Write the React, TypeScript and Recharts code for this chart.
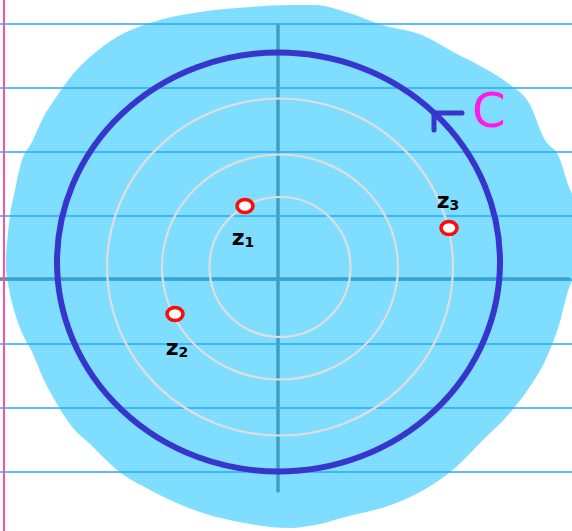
import {
  ComposedChart, XAxis, YAxis, Area, Scatter,
  ReferenceLine, ReferenceArea, ReferenceDot,
} from 'recharts';

// Plane units: the axes cross at (0, 0). One unit is about 50px on screen.
const X_DOMAIN: [number, number] = [-5.56, 5.88];
const Y_DOMAIN: [number, number] = [-5.04, 5.58];

// Painted blue blob, traced as column edges (x, bottom, top)
const blobX      = [-5.44, -5.36, -5.28, -5.16, -4.9, -4.7, -4.42, -4.1, -3.76, -3.22, -2.56, -1.56, -0.56, 0.24, 0.74, 1.42, 2.08, 2.88, 3.54, 4.08, 4.62, 5.02, 5.34, 5.62, 5.82, 6.0];
const blobTop    = [0.48, 1.28, 1.68, 2.24, 2.78, 3.22, 3.66, 4.1, 4.44, 4.84, 5.12, 5.34, 5.44, 5.48, 5.48, 5.32, 5.08, 4.88, 4.52, 4.24, 3.9, 3.52, 2.78, 2.44, 1.84, 1.48];
const blobBottom = [0.18, -0.3, -0.62, -0.98, -1.5, -1.98, -2.5, -2.98, -3.3, -3.82, -4.22, -4.66, -4.9, -4.98, -4.92, -4.74, -4.58, -4.24, -3.78, -3.24, -2.7, -2.18, -1.64, -0.92, -0.18, 0.18];

// Notebook paper
const ruleY   = [5.1, 3.82, 2.54, 1.26, -0.02, -1.3, -2.58, -3.86];
const marginX = -5.48;

// Axis segments
const xAxisSpan = [-5.56, 5.82];
const yAxisSpan = [-4.24, 5.08];

// Grey level rings (shared centre)
const ringCenter = { x: 0.04, y: 0.24 };
const ringRx = [1.41, 2.36, 3.46];
const ringRy = [1.4, 2.25, 3.37];

// Contour C
const contour = { x: 0.01, y: 0.34, rx: 4.43, ry: 4.19 };
const arrowAt = { x: 3.12, y: 3.32 };
const contourLabel = { x: 4.22, y: 3.38, text: 'C' };

// Points z1, z2, z3 and where their labels sit
const points = [
  { name: 'z1', x: -0.66, y: 1.46 },
  { name: 'z2', x: -2.06, y: -0.7 },
  { name: 'z3', x: 3.42, y: 1.02 },
];
const labelSpots = [
  { sub: '1', x: -0.7, y: 0.84 },
  { sub: '2', x: -2.02, y: -1.36 },
  { sub: '3', x: 3.4, y: 1.58 },
];

const blobData = blobX.map((x, i) => ({ x, range: [blobBottom[i], blobTop[i]] }));

const AXIS_GREY  = '#808080';
const BLOB_BLUE  = '#00bbff';
const RULE_BLUE  = '#2aa8f5';
const MARGIN_PINK = '#ff4fa8';
const RING_GREY  = '#dedede';
const INK_BLUE   = '#3636cc';
const MARK_RED   = '#ff0a0a';

function Ellipse(stroke: string, strokeWidth: number) {
  return (p: any) => (
    <ellipse
      cx={p.x + p.width / 2}
      cy={p.y + p.height / 2}
      rx={p.width / 2}
      ry={p.height / 2}
      fill="none"
      stroke={stroke}
      strokeWidth={strokeWidth}
    />
  );
}

export default function App() {
  return (
    <div style={{ position: 'fixed', left: 0, top: 0, background: '#fff' }}>
      <ComposedChart
        width={572}
        height={531}
        data={blobData}
        margin={{ top: 0, right: 0, bottom: 0, left: 0 }}
      >
        <XAxis type="number" dataKey="x" domain={X_DOMAIN} allowDataOverflow hide />
        <YAxis type="number" domain={Y_DOMAIN} allowDataOverflow hide />

        {/* axes, under the paint */}
        <ReferenceLine
          segment={[{ x: xAxisSpan[0], y: 0 }, { x: xAxisSpan[1], y: 0 }]}
          stroke={AXIS_GREY} strokeWidth={3.5} strokeLinecap="round" ifOverflow="visible" zIndex={10}
        />
        <ReferenceLine
          segment={[{ x: 0, y: yAxisSpan[0] }, { x: 0, y: yAxisSpan[1] }]}
          stroke={AXIS_GREY} strokeWidth={3.5} strokeLinecap="round" ifOverflow="visible" zIndex={10}
        />

        {/* the blue paint blob */}
        <Area
          type="monotone"
          dataKey="range"
          stroke="none"
          fill={BLOB_BLUE}
          fillOpacity={0.5}
          isAnimationActive={false}
          dot={false}
          activeDot={false}
          zIndex={20}
        />

        {/* ruled lines and margin */}
        {ruleY.map((y) => (
          <ReferenceLine key={y} y={y} stroke={RULE_BLUE} strokeWidth={1.6} ifOverflow="visible" zIndex={30} />
        ))}
        <ReferenceLine x={marginX} stroke={MARGIN_PINK} strokeWidth={2} ifOverflow="visible" zIndex={30} />

        {/* grey rings */}
        {ringRx.map((rx, i) => (
          <ReferenceArea
            key={rx}
            x1={ringCenter.x - rx}
            x2={ringCenter.x + rx}
            y1={ringCenter.y - ringRy[i]}
            y2={ringCenter.y + ringRy[i]}
            ifOverflow="visible"
            shape={Ellipse(RING_GREY, 2.2)}
            zIndex={40}
          />
        ))}

        {/* contour C */}
        <ReferenceArea
          x1={contour.x - contour.rx}
          x2={contour.x + contour.rx}
          y1={contour.y - contour.ry}
          y2={contour.y + contour.ry}
          ifOverflow="visible"
          shape={Ellipse(INK_BLUE, 6)}
          zIndex={50}
        />
        <ReferenceDot
          x={arrowAt.x}
          y={arrowAt.y}
          ifOverflow="visible"
          zIndex={60}
          shape={(p: any) => (
            <path
              d={`M${p.cx + 28},${p.cy} L${p.cx},${p.cy} L${p.cx},${p.cy + 17}`}
              fill="none" stroke={INK_BLUE} strokeWidth={5}
              strokeLinecap="round" strokeLinejoin="round"
            />
          )}
        />
        <ReferenceDot
          x={contourLabel.x}
          y={contourLabel.y}
          ifOverflow="visible"
          zIndex={60}
          shape={(p: any) => (
            <text
              x={p.cx} y={p.cy} textAnchor="middle" dominantBaseline="central"
              fontFamily="DejaVu Sans" fontSize={48} fill="#ff1aeb"
            >
              {contourLabel.text}
            </text>
          )}
        />

        {/* z points */}
        <Scatter
          data={points}
          dataKey="y"
          isAnimationActive={false}
          zIndex={70}
          shape={(p: any) => (
            <ellipse cx={p.cx} cy={p.cy} rx={8} ry={6.5} fill="#fff" stroke={MARK_RED} strokeWidth={3.5} />
          )}
        />
        <Scatter
          data={labelSpots}
          dataKey="y"
          isAnimationActive={false}
          zIndex={70}
          shape={(p: any) => (
            <text
              x={p.cx} y={p.cy} textAnchor="middle" dominantBaseline="central"
              fontFamily="DejaVu Sans" fontWeight="bold" fill="#000"
            >
              <tspan fontSize={22}>z</tspan>
              <tspan fontSize={14} dy={5}>{p.payload.sub}</tspan>
            </text>
          )}
        />
      </ComposedChart>
    </div>
  );
}
